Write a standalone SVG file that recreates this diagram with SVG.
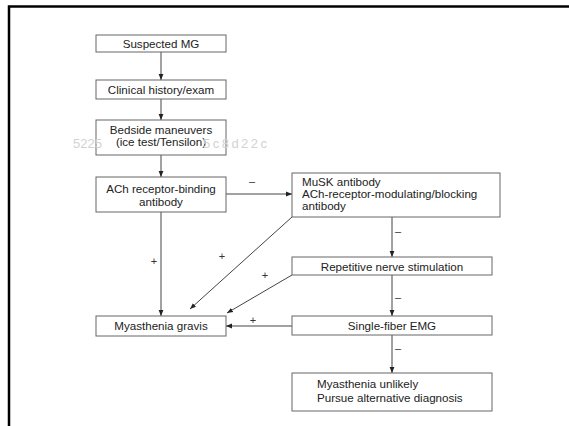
<svg xmlns="http://www.w3.org/2000/svg" width="569" height="426" viewBox="0 0 569 426">
<defs>
<style>
.box{fill:#fff;stroke:#666;stroke-width:1}
.t{font-family:"Liberation Sans",Arial,sans-serif;font-size:11.6px;fill:#222}
.c{text-anchor:middle}
.lbl{font-family:"Liberation Sans",Arial,sans-serif;font-size:11px;fill:#333;text-anchor:middle}
.wm{font-family:"Liberation Sans",Arial,sans-serif;font-size:13px;fill:#d2d2d2}
.ln{fill:none;stroke:#444;stroke-width:1;marker-end:url(#ah)}
</style>
<marker id="ah" viewBox="0 0 10 10" refX="10" refY="5" markerWidth="6" markerHeight="6" orient="auto" markerUnits="userSpaceOnUse">
<path d="M0,1 L10,5 L0,9 z" fill="#222"/>
</marker>
</defs>
<rect width="569" height="426" fill="#fff"/>
<path d="M9,426 V6.5 H569" fill="none" stroke="#000" stroke-width="2.5"/>
<g id="connectors">
<line class="ln" x1="161" y1="52" x2="161" y2="80"/>
<line class="ln" x1="161" y1="99" x2="161" y2="120"/>
<line class="ln" x1="161" y1="155" x2="161" y2="177"/>
<line class="ln" x1="226" y1="194" x2="292" y2="194"/>
<line class="ln" x1="161" y1="212" x2="161" y2="316"/>
<line class="ln" x1="292" y1="217" x2="190" y2="309"/>
<line class="ln" x1="292" y1="275" x2="227" y2="313"/>
<line class="ln" x1="292" y1="326" x2="226" y2="326"/>
<line class="ln" x1="392" y1="217" x2="392" y2="257"/>
<line class="ln" x1="392" y1="275" x2="392" y2="316"/>
<line class="ln" x1="392" y1="335" x2="392" y2="373"/>
<text class="lbl" x="252" y="185">–</text>
<text class="lbl" x="154" y="265">+</text>
<text class="lbl" x="222" y="260">+</text>
<text class="lbl" x="265" y="279">+</text>
<text class="lbl" x="253" y="324">+</text>
<text class="lbl" x="398" y="235">–</text>
<text class="lbl" x="398" y="301">–</text>
<text class="lbl" x="398" y="352">–</text>
</g>
<g id="n1"><rect class="box" x="96" y="35" width="130" height="17"/><text class="t c" x="161" y="47.5">Suspected MG</text></g>
<g id="n2"><rect class="box" x="96" y="80" width="130" height="19"/><text class="t c" x="161" y="93.5">Clinical history/exam</text></g>
<g id="n3"><rect class="box" x="96" y="120" width="130" height="35"/><text class="t c" x="161" y="134">Bedside maneuvers</text><text class="t c" x="161" y="146">(ice test/Tensilon)</text></g>
<text class="wm" x="73" y="148">5225</text>
<text class="wm" x="203" y="148" textLength="64" lengthAdjust="spacing">5c8d22c</text>
<g id="n4"><rect class="box" x="96" y="177" width="130" height="35"/><text class="t c" x="161" y="192.5">ACh receptor-binding</text><text class="t c" x="161" y="205.5">antibody</text></g>
<g id="n5"><rect class="box" x="292" y="173" width="208" height="44"/><text class="t" x="302" y="186">MuSK antibody</text><text class="t" x="302" y="198">ACh-receptor-modulating/blocking</text><text class="t" x="302" y="210">antibody</text></g>
<g id="n6"><rect class="box" x="292" y="257" width="200" height="18"/><text class="t c" x="392" y="270.5">Repetitive nerve stimulation</text></g>
<g id="n7"><rect class="box" x="292" y="316" width="200" height="19"/><text class="t c" x="392" y="329.5">Single-fiber EMG</text></g>
<g id="n8"><rect class="box" x="292" y="373" width="200" height="38"/><text class="t" x="317" y="388">Myasthenia unlikely</text><text class="t" x="317" y="401.5">Pursue alternative diagnosis</text></g>
<g id="n9"><rect class="box" x="96" y="316" width="130" height="20"/><text class="t c" x="161" y="330">Myasthenia gravis</text></g>
</svg>
